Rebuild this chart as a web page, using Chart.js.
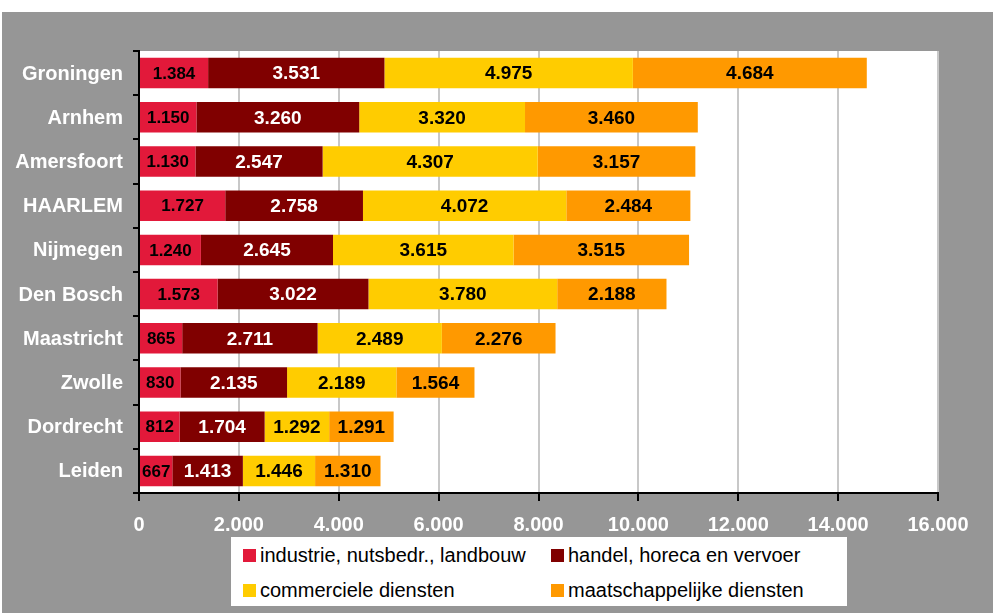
<!DOCTYPE html>
<html lang="nl">
<head>
    <meta charset="UTF-8">
    <title>Werkgelegenheid per sector</title>
    <script src="https://cdn.jsdelivr.net/npm/chart.js"></script>
    <style>
        body { margin: 0; background: #fff; font-family: "Liberation Sans", Arial, sans-serif; }
        #wrap { position: absolute; left: 2px; top: 12px; width: 991px; height: 601px; background: #969696; }
        #chart { position: absolute; left: 0; top: 0; }
        #legend { position: absolute; left: 229px; top: 525px; width: 616px; height: 69px; background: #fff; }
        .item { position: absolute; height: 22px; display: flex; align-items: center; font-size: 20px; color: #000; white-space: nowrap; }
        .item .box { width: 13px; height: 13px; margin-right: 4px; flex: none; }
    </style>
</head>
<body>
    <div id="wrap">
        <canvas id="chart" width="991" height="601"></canvas>
        <div id="legend"></div>
    </div>

    <script>
        // gegevens
        const cities = ['Groningen', 'Arnhem', 'Amersfoort', 'HAARLEM', 'Nijmegen', 'Den Bosch', 'Maastricht', 'Zwolle', 'Dordrecht', 'Leiden'];
        const industrie = [1384, 1150, 1130, 1727, 1240, 1573, 865, 830, 812, 667];
        const handel = [3531, 3260, 2547, 2758, 2645, 3022, 2711, 2135, 1704, 1413];
        const commercieel = [4975, 3320, 4307, 4072, 3615, 3780, 2489, 2189, 1292, 1446];
        const maatschappelijk = [4684, 3460, 3157, 2484, 3515, 2188, 2276, 1564, 1291, 1310];

        const seriesNames = ['industrie, nutsbedr., landbouw', 'handel, horeca en vervoer', 'commerciele diensten', 'maatschappelijke diensten'];
        const seriesColors = ['#E2193A', '#800000', '#FFCC00', '#FF9900'];
        const labelColors = ['#000', '#fff', '#000', '#000'];
        const labelSizes = [17, 19, 19, 19];

        const FONT = '"Liberation Sans", Arial, sans-serif';

        function fmt(v) {
            return String(v).replace(/\B(?=(\d{3})+(?!\d))/g, '.');
        }

        // witte plotvlak achtergrond
        const plotBg = {
            id: 'plotBg',
            beforeDraw(chart) {
                const a = chart.chartArea;
                const ctx = chart.ctx;
                ctx.save();
                ctx.fillStyle = '#fff';
                ctx.fillRect(a.left, a.top, a.right - a.left, a.bottom - a.top);
                ctx.restore();
            }
        };

        // waarden in de balken
        const barLabels = {
            id: 'barLabels',
            afterDatasetsDraw(chart) {
                const ctx = chart.ctx;
                ctx.save();
                ctx.textAlign = 'center';
                ctx.textBaseline = 'middle';
                chart.data.datasets.forEach((ds, di) => {
                    const meta = chart.getDatasetMeta(di);
                    ctx.font = 'bold ' + labelSizes[di] + 'px ' + FONT;
                    ctx.fillStyle = labelColors[di];
                    meta.data.forEach((bar, i) => {
                        const p = bar.getProps(['x', 'y', 'base'], true);
                        ctx.fillText(fmt(ds.data[i]), (p.x + p.base) / 2, p.y + 1);
                    });
                });
                ctx.restore();
            }
        };

        const allSeries = [industrie, handel, commercieel, maatschappelijk];

        const chart = new Chart(document.getElementById('chart'), {
            type: 'bar',
            data: {
                labels: cities,
                datasets: allSeries.map((d, i) => ({
                    label: seriesNames[i],
                    data: d,
                    backgroundColor: seriesColors[i],
                    borderWidth: 0,
                    barPercentage: 0.69,
                    categoryPercentage: 1
                }))
            },
            options: {
                indexAxis: 'y',
                responsive: false,
                animation: false,
                devicePixelRatio: 1,
                layout: { padding: { top: 39, right: 55, left: 0, bottom: 0 } },
                plugins: {
                    legend: { display: false },
                    tooltip: { enabled: false }
                },
                scales: {
                    x: {
                        stacked: true,
                        min: 0,
                        max: 16000,
                        ticks: {
                            stepSize: 2000,
                            color: '#fff',
                            padding: 12,
                            font: { family: FONT, size: 20, weight: 'bold' },
                            callback: v => fmt(v)
                        },
                        grid: { color: '#c8c8c8', lineWidth: 2, tickColor: '#000', tickLength: 8, tickWidth: 2 },
                        border: { color: '#000', width: 2 },
                        afterFit: s => { s.height = 120; }
                    },
                    y: {
                        stacked: true,
                        ticks: {
                            color: '#fff',
                            padding: 10,
                            labelOffset: 1,
                            font: { family: FONT, size: 20, weight: 'bold' }
                        },
                        grid: { drawOnChartArea: false, color: '#000', tickLength: 6, lineWidth: 2 },
                        border: { color: '#000', width: 2 },
                        afterFit: s => { s.width = 137; }
                    }
                }
            },
            plugins: [plotBg, barLabels]
        });

        // legenda
        const legend = document.getElementById('legend');
        const pos = [[12, 11], [320, 11], [12, 46], [320, 46]];
        chart.data.datasets.forEach((ds, k) => {
            const item = document.createElement('div');
            item.className = 'item';
            item.style.left = pos[k][0] + 'px';
            item.style.top = (pos[k][1] - 4) + 'px';
            const box = document.createElement('span');
            box.className = 'box';
            box.style.background = ds.backgroundColor;
            item.appendChild(box);
            item.appendChild(document.createTextNode(ds.label));
            legend.appendChild(item);
        });
    </script>
</body>
</html>
